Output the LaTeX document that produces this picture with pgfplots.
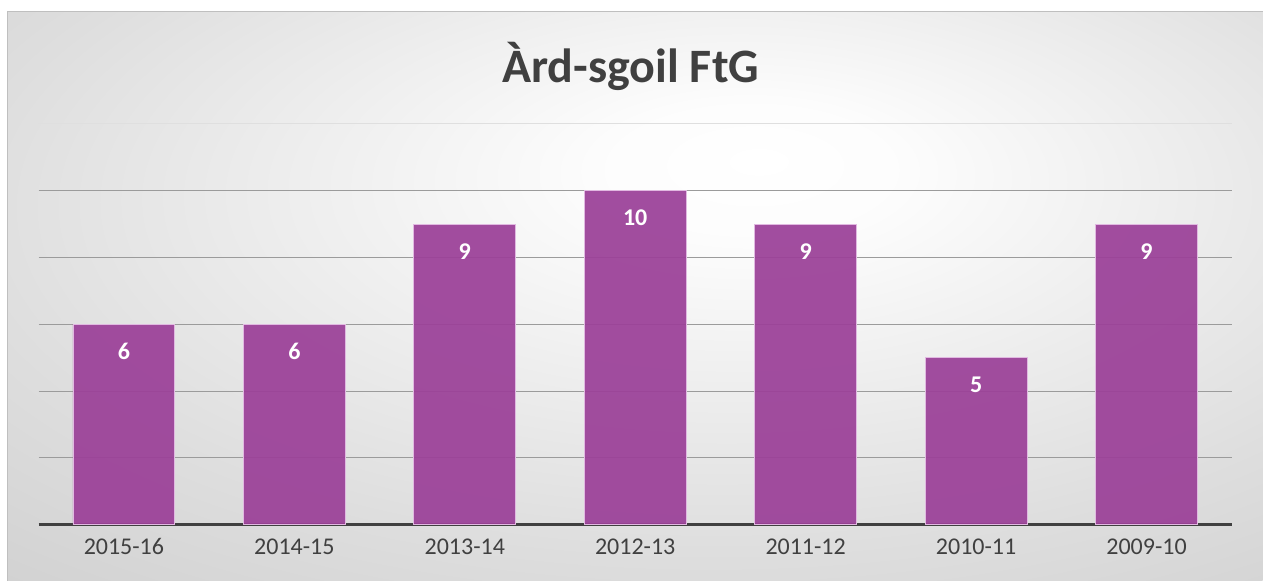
\documentclass[border=0pt]{standalone}
\usepackage{pgfplots}
\pgfplotsset{compat=1.18}
\usepackage{fontspec}
\setmainfont{Carlito}
\definecolor{barc}{RGB}{155,64,152}
\definecolor{txtc}{RGB}{64,64,64}
\definecolor{gridc}{RGB}{155,155,155}
\pgfdeclareradialshading{bgshade}{\pgfpoint{5bp}{12bp}}{rgb(0bp)=(1,1,1); rgb(6bp)=(0.99,0.99,0.99); rgb(30bp)=(0.87,0.87,0.87); rgb(52bp)=(0.78,0.78,0.78); rgb(80bp)=(0.73,0.73,0.73)}
\begin{document}
\begin{tikzpicture}
\path[fill=white] (0,0) rectangle (1263bp,581bp);
\shade[shading=bgshade] (8bp,0) rectangle (1263bp,569bp);
\draw[gray!50, line width=1bp] (8bp,0) -- (8bp,569bp) -- (1263bp,569bp);
\node[font=\fontsize{48bp}{56bp}\selectfont\bfseries, text=txtc] at (631bp,515bp) {Àrd-sgoil FtG};
\begin{axis}[
  at={(38.7bp,56bp)}, anchor=south west,
  scale only axis, width=1193.6bp, height=401bp,
  ymin=0, ymax=12, xmin=-0.5, xmax=6.5,
  ybar, bar width=102bp,
  axis x line*=bottom, axis y line*=left,
  x axis line style={line width=3bp, draw=txtc, -},
  y axis line style={draw=none},
  tick style={draw=none},
  ytick={2,4,...,10}, yticklabels={},
  extra y ticks={12}, extra y tick labels={},
  extra y tick style={grid style={gray!25, line width=1bp}},
  ymajorgrids, grid style={gridc, line width=1bp},
  xtick=data,
  xticklabels={2015-16,2014-15,2013-14,2012-13,2011-12,2010-11,2009-10},
  xticklabel style={font=\fontsize{24bp}{28bp}\selectfont, text=txtc, yshift=-6bp},
  /pgf/number format/assume math mode=true,
  nodes near coords,
  every node near coord/.append style={anchor=center, yshift=-27bp, font=\fontsize{24bp}{28bp}\selectfont\bfseries, text=white},
]
\addplot[fill=barc, fill opacity=0.93, text opacity=1, draw={rgb,255:red,225;green,185;blue,225}, line width=0.8bp] coordinates {(0,6) (1,6) (2,9) (3,10) (4,9) (5,5) (6,9)};
\end{axis}
\end{tikzpicture}
\end{document}
